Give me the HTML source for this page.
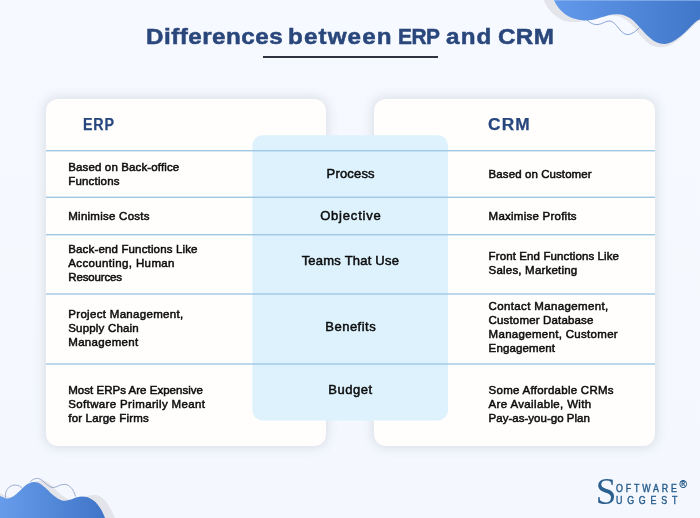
<!DOCTYPE html>
<html>
<head>
<meta charset="utf-8">
<title>Differences between ERP and CRM</title>
<style>
html,body{margin:0;padding:0;}
body{width:700px;height:518px;overflow:hidden;position:relative;font-family:"Liberation Sans",sans-serif;
  background:linear-gradient(180deg,#f6f9ff 0%,#f5f9fe 50%,#f4f8fe 100%);}
.abs{position:absolute;}
.card{position:absolute;top:99px;height:347px;background:#fffefd;border-radius:12px;
  box-shadow:0 0 11px 1.5px rgba(75,80,100,0.15);}
#cardL{left:46px;width:280px;}
#cardR{left:374px;width:281px;}
.panel{position:absolute;left:252px;top:135.3px;width:196px;height:285px;background:#ddf2fd;border-radius:10px;}
h1{position:absolute;margin:0;left:0;top:21px;width:700px;height:31px;font-size:22px;line-height:31px;font-weight:700;color:#2a477c;white-space:nowrap;letter-spacing:0.81px;-webkit-text-stroke:0.5px #2a477c;}
.ul{position:absolute;left:263px;top:56px;width:175px;height:2px;background:#2f333f;}
.hd{position:absolute;font-size:16px;line-height:20px;font-weight:700;color:#27467d;white-space:nowrap;-webkit-text-stroke:0.25px #27467d;}
.t{position:absolute;font-size:11.5px;line-height:14px;color:#0d0d0d;white-space:nowrap;-webkit-text-stroke:0.5px #0d0d0d;}
.l{position:absolute;font-size:13px;line-height:15px;color:#0d0d0d;white-space:nowrap;-webkit-text-stroke:0.5px #0d0d0d;}
.lg{font-size:10.3px;line-height:12px;color:#265c8c;white-space:nowrap;transform-origin:0 0;transform:scaleX(0.86);-webkit-text-stroke:0.4px #265c8c;}
.tw{position:absolute;top:0;white-space:nowrap;transform-origin:0 0;}
</style>
</head>
<body>
<div id="root" style="position:absolute;left:0;top:0;width:700px;height:518px;will-change:transform;">

<!-- decorative blobs -->
<svg class="abs" style="left:0;top:0" width="700" height="518" viewBox="0 0 700 518">
  <defs>
    <linearGradient id="g1" x1="0" y1="0" x2="1" y2="0">
      <stop offset="0" stop-color="#6299ea"/>
      <stop offset="1" stop-color="#4177c9"/>
    </linearGradient>
    <linearGradient id="g2" x1="0" y1="0" x2="1" y2="0">
      <stop offset="0" stop-color="#669cea"/>
      <stop offset="1" stop-color="#4075c8"/>
    </linearGradient>
  </defs>
  <!-- top right: grey shadow blob -->
  <path d="M543.5,0 C548,10 556,20 570,22 C585,23 596,17 610,15.5 C624,14.5 632,24 640,35 C648,45 655,48 663,47 C672,46.5 680,39 688,31 C693,26 697,22 700,21 L700,0 Z" fill="#e4e5ea"/>
  <!-- top right: blue blob -->
  <path d="M554,0 C558,9 566,19 584,20.5 C596,21 604,14.5 617,14.2 C629,14 635,22 643,31 C651,40 657,44 664.5,44 C673,43.5 681,36.5 689,28.5 C693,24.5 696,21 700,19.3 L700,0 Z" fill="url(#g1)"/>
  <path d="M587,20 C590,23 594,25 598,24.5 C603,24 606,20.5 610,21 C615,22 618,28 621,31 C624,34 626.5,35 629,34.5 C633,33.5 636,31 639.5,27.5" fill="none" stroke="#5c82c4" stroke-width="0.7"/>
  <rect x="554" y="0" width="146" height="1" fill="#8db7f2" opacity="0.7"/>

  <!-- bottom left: grey shadow blob -->
  <path d="M0,493 C3,494 5,497 10,497 C20,496 28,480 42,480.5 C52,481 58,497 70,499 C80,500 86,494 96,495 C104,496 110,506 115,518 L0,518 Z" fill="#e4e5ea"/>
  <!-- bottom left: blue blob -->
  <path d="M0,496 C3,497 5,499 8,498.5 C18,497 24,482 34,482 C44,482 50,496 62,500.5 C70,502 74,496.5 82,496.5 C92,496.5 100,504 105,518 L0,518 Z" fill="url(#g2)"/>
  <path d="M5.5,497.5 C4.5,491 9,485 15,485 C19,485 21,487 23,489" fill="none" stroke="#7a8dbd" stroke-width="0.7"/>
  <path d="M30,482 C33,479 36,478 38.5,478.5 C44,480 47,487 53,487.5 C57,487.5 60,484 65,484.3 C70,485 74,490 75.5,496.5" fill="none" stroke="#7a8dbd" stroke-width="0.7"/>
</svg>

<!-- title -->
<h1><span class="tw" style="left:146.17px;letter-spacing:0.443px;transform:scaleX(1.1000)">Differences</span><span class="tw" style="left:288.17px;letter-spacing:1.010px;transform:scaleX(1.1000)">between</span><span class="tw" style="left:398.37px;letter-spacing:-0.520px;transform:scaleX(0.9500)">ERP</span><span class="tw" style="left:446.17px;letter-spacing:1.074px;transform:scaleX(1.1000)">and</span><span class="tw" style="left:498.17px;letter-spacing:0.309px;transform:scaleX(1.1000)">CRM</span></h1>
<div class="ul"></div>

<!-- cards -->
<div class="card" id="cardL"></div>
<div class="card" id="cardR"></div>

<!-- dividers -->
<svg class="abs" style="left:0;top:0" width="700" height="518" viewBox="0 0 700 518">
  <rect x="252.4" y="135.2" width="195.6" height="285.2" rx="10" ry="10" fill="#ddf2fd"/>
  <g fill="#9fc9e4">
    <rect x="46" y="150.0" width="609" height="1.4"/>
    <rect x="46" y="196.6" width="609" height="1.4"/>
    <rect x="46" y="234.0" width="609" height="1.4"/>
    <rect x="46" y="293.3" width="609" height="1.4"/>
    <rect x="46" y="363.3" width="609" height="1.4"/>
  </g>
</svg>

<div class="hd" style="left:82.9px;top:115px;letter-spacing:0.9px;transform-origin:0 0;transform:scaleX(0.89)">ERP</div>
<div class="hd" style="left:487.6px;top:115px;letter-spacing:1.1px;transform-origin:0 0;transform:scaleX(1.08)">CRM</div>

<div class="t" style="left:68.25px;top:160.00px;letter-spacing:0.133px">Based on Back-office</div>
<div class="t" style="left:68.25px;top:174.00px;letter-spacing:0.174px">Functions</div>
<div class="t" style="left:68.25px;top:209.00px;letter-spacing:0.252px">Minimise Costs</div>
<div class="t" style="left:68.25px;top:242.00px;letter-spacing:0.151px">Back-end Functions Like</div>
<div class="t" style="left:68.25px;top:256.00px;letter-spacing:0.367px">Accounting, Human</div>
<div class="t" style="left:68.25px;top:270.00px;letter-spacing:-0.152px">Resources</div>
<div class="t" style="left:68.25px;top:307.00px;letter-spacing:0.316px">Project Management,</div>
<div class="t" style="left:68.25px;top:321.00px;letter-spacing:0.190px">Supply Chain</div>
<div class="t" style="left:68.25px;top:335.00px;letter-spacing:0.319px">Management</div>
<div class="t" style="left:68.25px;top:383.00px;letter-spacing:0.023px">Most ERPs Are Expensive</div>
<div class="t" style="left:68.25px;top:397.00px;letter-spacing:0.360px">Software Primarily Meant</div>
<div class="t" style="left:68.25px;top:411.00px;letter-spacing:0.181px">for Large Firms</div>
<div class="t" style="left:488.60px;top:167.00px;letter-spacing:0.085px">Based on Customer</div>
<div class="t" style="left:488.60px;top:209.00px;letter-spacing:0.243px">Maximise Profits</div>
<div class="t" style="left:488.60px;top:249.00px;letter-spacing:0.111px">Front End Functions Like</div>
<div class="t" style="left:488.60px;top:263.00px;letter-spacing:0.196px">Sales, Marketing</div>
<div class="t" style="left:488.60px;top:299.00px;letter-spacing:0.358px">Contact Management,</div>
<div class="t" style="left:488.60px;top:313.00px;letter-spacing:0.157px">Customer Database</div>
<div class="t" style="left:488.60px;top:327.00px;letter-spacing:0.301px">Management, Customer</div>
<div class="t" style="left:488.60px;top:341.00px;letter-spacing:0.131px">Engagement</div>
<div class="t" style="left:488.60px;top:383.00px;letter-spacing:0.266px">Some Affordable CRMs</div>
<div class="t" style="left:488.60px;top:397.00px;letter-spacing:0.349px">Are Available, With</div>
<div class="t" style="left:488.60px;top:411.00px;letter-spacing:0.018px">Pay-as-you-go Plan</div>
<div class="l" style="left:326.60px;top:166.00px;letter-spacing:0.172px">Process</div>
<div class="l" style="left:320.15px;top:208.00px;letter-spacing:0.812px">Objective</div>
<div class="l" style="left:301.65px;top:253.00px;letter-spacing:0.221px">Teams That Use</div>
<div class="l" style="left:325.25px;top:319.00px;letter-spacing:0.502px">Benefits</div>
<div class="l" style="left:328.20px;top:382.00px;letter-spacing:0.559px">Budget</div>

<!-- logo -->
<div class="abs" style="left:595.8px;top:471.5px;font-family:'Liberation Serif',serif;font-size:37px;line-height:40px;color:#2a5f8f;">S</div>
<div class="abs lg" style="left:616.4px;top:482.5px;letter-spacing:3.3px;">OFTWARE</div>
<div class="abs lg" style="left:616.4px;top:495px;letter-spacing:5.56px;">UGGEST</div>
<div class="abs" style="left:679.4px;top:478.8px;font-size:10px;line-height:12px;color:#265c8c;-webkit-text-stroke:0.3px #265c8c;">&#174;</div>

</div>
</body>
</html>
